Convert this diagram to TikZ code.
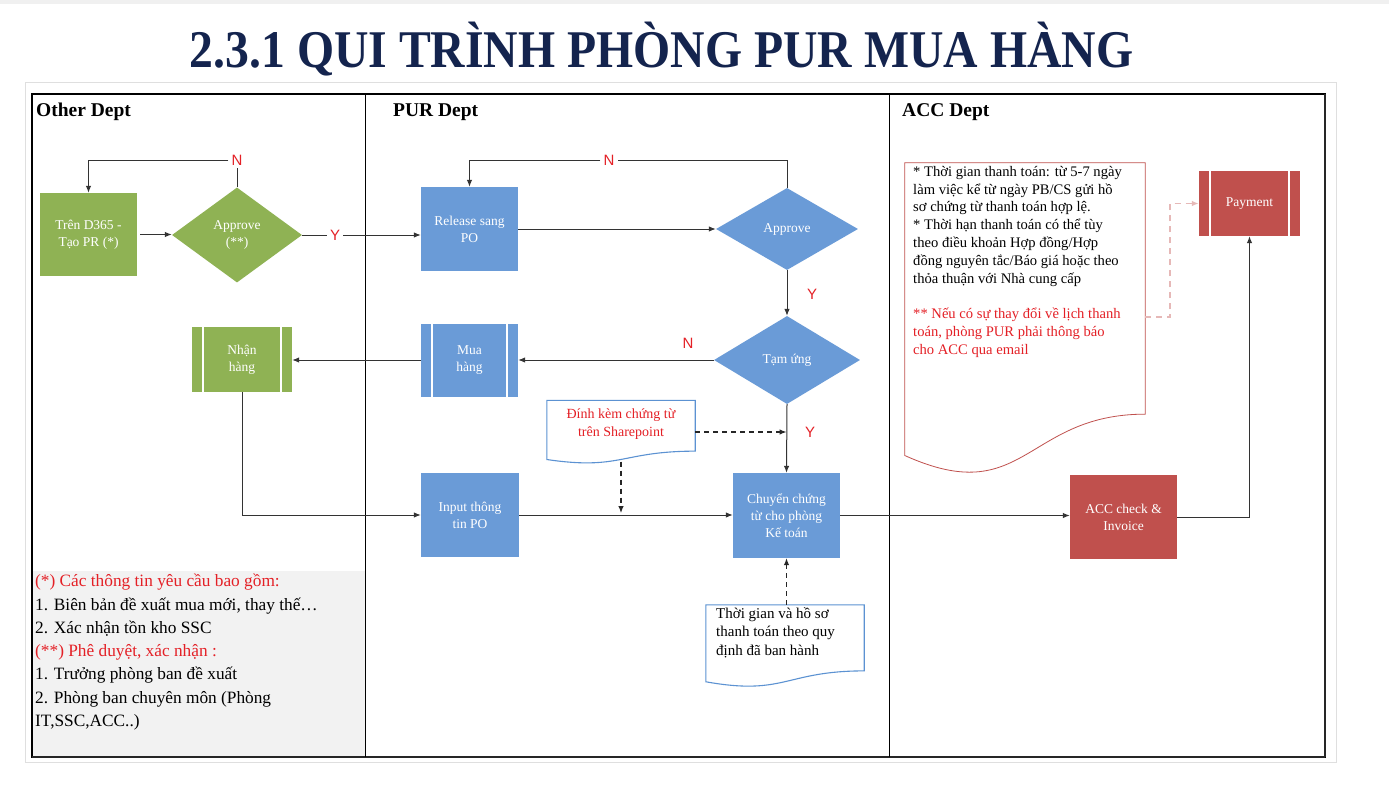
\documentclass[tikz,border=0pt]{standalone}
\usepackage{fontspec}
\setmainfont{Liberation Serif}
\newfontfamily\lblfont{Liberation Sans}
\usetikzlibrary{arrows.meta,calc,shapes.geometric}
\definecolor{cgreen}{RGB}{143,178,84}
\definecolor{cblue}{RGB}{106,155,215}
\definecolor{cred}{RGB}{192,80,77}
\definecolor{ctitle}{RGB}{20,36,78}
\definecolor{ctxtred}{RGB}{228,32,38}
\definecolor{cdocblue}{RGB}{92,146,210}
\definecolor{cpink}{RGB}{230,184,183}
\definecolor{clegend}{RGB}{242,242,242}
\newcommand{\pbars}[2]{%
  \draw[white, line width=1.8pt] ($(#1.north west)+(#2,0)$) -- ($(#1.south west)+(#2,0)$);
  \draw[white, line width=1.8pt] ($(#1.north east)+(-#2,0)$) -- ($(#1.south east)+(-#2,0)$);}
\newcommand{\docshape}[2]{%
  \draw[#2] (#1.north west) -- (#1.north east) -- ($(#1.north east)!0.802!(#1.south east)$)
    .. controls ($(#1.north)!0.802!(#1.south)$) and ($(#1.north)!1.107!(#1.south)$) ..
    ($(#1.north west)!0.934!(#1.south west)$) -- cycle;}
\tikzset{
  proc/.style={rectangle, fill=#1, draw=none, text=white, inner sep=0pt,
    font=\fontsize{13.5}{17}\selectfont, align=center},
  dec/.style={diamond, fill=#1, draw=none, text=white, inner sep=0pt, aspect=1.4,
    font=\fontsize{13.5}{17}\selectfont, align=center},
  docbox/.style={rectangle, draw=none, inner sep=0pt},
  arr/.style={draw=black!80, line width=1pt, -{Latex[length=7pt,width=5.5pt]}},
  ln/.style={draw=black!80, line width=1pt},
  darr/.style={draw=black!85, line width=1.1pt, dashed, dash pattern=on 5pt off 4pt, -{Latex[length=7pt,width=5.5pt]}},
  yn/.style={text=ctxtred, font=\lblfont\fontsize{15}{15}\selectfont, inner sep=3pt},
  hdr/.style={anchor=base west, font=\fontsize{19.5}{21}\selectfont\bfseries, inner sep=0pt},
}
\begin{document}
\begin{tikzpicture}[x=1pt,y=-1pt]
\useasboundingbox (0,0) rectangle (1389,792);
\fill[white] (0,0) rectangle (1389,792);
\fill[gray!12] (0,0) rectangle (1389,4);
% title
\node[anchor=base, text=ctitle, inner sep=0pt] (title) at (661.5,67)
  {\scalebox{0.9}[1]{\fontsize{53}{60}\selectfont\bfseries 2.3.1 QUI TRÌNH PHÒNG PUR MUA HÀNG}};
% frames
\draw[gray!25, line width=1pt] (25,82) rectangle (1336,762);
\fill[clegend] (33,571) rectangle (365,757);
\draw[black, line width=1.2pt] (32,94) rectangle (1325,757);
\draw[black!85, line width=2.2pt] (32,757) -- (1325,757);
\draw[black!85, line width=1.8pt] (1325,94) -- (1325,757);
\draw[black, line width=1pt] (365,94) -- (365,757);
\draw[black, line width=1pt] (889,94) -- (889,757);
\node[hdr] (h1) at (36,116) {Other Dept};
\node[hdr] (h2) at (393,116) {PUR Dept};
\node[hdr] (h3) at (902,116) {ACC Dept};

% Other dept
\node[proc=cgreen, minimum width=97, minimum height=83] (d365) at (88.5,234.5) {Trên D365 -\\Tạo PR (*)};
\node[dec=cgreen, minimum width=130, minimum height=95] (appA) at (237,235) {Approve\\(**)};
\node[proc=cgreen, minimum width=100, minimum height=65] (nhan) at (242,359.5) {Nhận\\hàng};
\pbars{nhan}{11}

% PUR dept
\node[proc=cblue, minimum width=97, minimum height=84] (rel) at (469.5,229) {Release sang\\PO};
\node[dec=cblue, minimum width=142, minimum height=82] (appB) at (787,229) {Approve};
\node[dec=cblue, minimum width=146, minimum height=88] (tam) at (787,360) {Tạm ứng};
\node[proc=cblue, minimum width=97, minimum height=73] (mua) at (469.5,360) {Mua\\hàng};
\pbars{mua}{11}
\node[proc=cblue, minimum width=98, minimum height=84] (inp) at (470,515) {Input thông\\tin PO};
\node[proc=cblue, minimum width=107, minimum height=85] (chuyen) at (786.5,515.5) {Chuyển chứng\\từ cho phòng\\Kế toán};

% documents
\node[docbox, minimum width=148, minimum height=63] (dinh) at (621,432) {};
\docshape{dinh}{draw=cdocblue, line width=1.1pt, fill=white}
\node[text=ctxtred, align=center, font=\fontsize{14}{17.5}\selectfont, inner sep=0pt] (dinht) at (621,424) {Đính kèm chứng từ\\trên Sharepoint};
\node[docbox, minimum width=158, minimum height=82] (thoi) at (785,646) {};
\docshape{thoi}{draw=cdocblue, line width=1.1pt, fill=white}
\node[anchor=north west, align=left, font=\fontsize{15}{18.5}\selectfont, inner sep=0pt] (thoit) at (716,607) {Thời gian và hồ sơ\\thanh toán theo quy\\định đã ban hành};

% ACC dept
\node[docbox, minimum width=240, minimum height=313] (note) at (1025,319.5) {};
\docshape{note}{draw=cred, line width=0.8pt, fill=white}
\node[anchor=north west, align=left, font=\fontsize{14.6}{17.8}\selectfont, inner sep=0pt] (notet) at (913,166)
 {* Thời gian thanh toán: từ 5-7 ngày\\
  làm việc kể từ ngày PB/CS gửi hồ\\
  sơ chứng từ thanh toán hợp lệ.\\
  * Thời hạn thanh toán có thể tùy\\
  theo điều khoản Hợp đồng/Hợp\\
  đồng nguyên tắc/Báo giá hoặc theo\\
  thỏa thuận với Nhà cung cấp\\
  \mbox{}\\
  \textcolor{ctxtred}{** Nếu có sự thay đổi về lịch thanh}\\
  \textcolor{ctxtred}{toán, phòng PUR phải thông báo}\\
  \textcolor{ctxtred}{cho ACC qua email}};
\node[proc=cred, minimum width=101, minimum height=65] (pay) at (1249.5,203.5) {Payment};
\pbars{pay}{11}
\node[proc=cred, minimum width=107, minimum height=84] (acc) at (1123.5,517) {ACC check \&\\Invoice};

% legend
\node[anchor=north west, align=left, font=\fontsize{17.3}{23.3}\selectfont, inner sep=0pt] (legend) at (35,574)
 {\textcolor{ctxtred}{(*) Các thông tin yêu cầu bao gồm:}\\
  1. Biên bản đề xuất mua mới, thay thế…\\
  2. Xác nhận tồn kho SSC\\
  \textcolor{ctxtred}{(**) Phê duyệt, xác nhận :}\\
  1. Trưởng phòng ban đề xuất\\
  2. Phòng ban chuyên môn (Phòng\\
  IT,SSC,ACC..)};

% labels
\node[yn] (nA) at (237,160) {N};
\node[yn] (yA) at (335,235) {Y};
\node[yn] (nB) at (609,160) {N};
\node[yn] (yB) at (812,294) {Y};
\node[yn] (nC) at (688,343) {N};
\node[yn] (yC) at (810,432) {Y};

% connectors
\draw[arr] ($(d365.east)+(3,0)$) -- (d365.east -| appA.west);
\draw[ln] (appA.north) -- (nA.south);
\draw[arr] (nA.west) -| (d365.north);
\draw[ln] (appA.east) -- (appA.east -| yA.west);
\draw[arr] (yA.east) -- (yA.east -| rel.west);
\draw[arr] (rel.east) -- (appB.west);
\draw[ln] (appB.north) |- (nB.east);
\draw[arr] (nB.west) -| (rel.north);
\draw[arr] (appB.south) -- (tam.north);
\draw[arr] (tam.west) -- (mua.east);
\draw[arr] (mua.west) -- (mua.west -| nhan.east);
\draw[arr] (nhan.south) |- (inp.west);
\draw[arr] (inp.east) -- (inp.east -| chuyen.west);
\draw[arr] (tam.south) -- (chuyen.north);
\draw[darr] (dinh.east) -- (dinh.east -| chuyen.north);
\draw[darr] ($(dinh.south)+(0,-2)$) -- ($(dinh.south |- inp.east)+(0,-2)$);
\draw[darr] (chuyen.south |- thoi.north) -- (chuyen.south);
\draw[arr] (chuyen.east) -- (chuyen.east -| acc.west);
\draw[arr] (acc.east) -| (pay.south);
\coordinate (nt) at (1145,317);
\draw[draw=cpink, line width=1.5pt, dashed, dash pattern=on 6pt off 5pt, -{Latex[length=7pt,width=5.5pt]}] (nt) -- ++(25,0) |- (pay.west);
\end{tikzpicture}
\end{document}
